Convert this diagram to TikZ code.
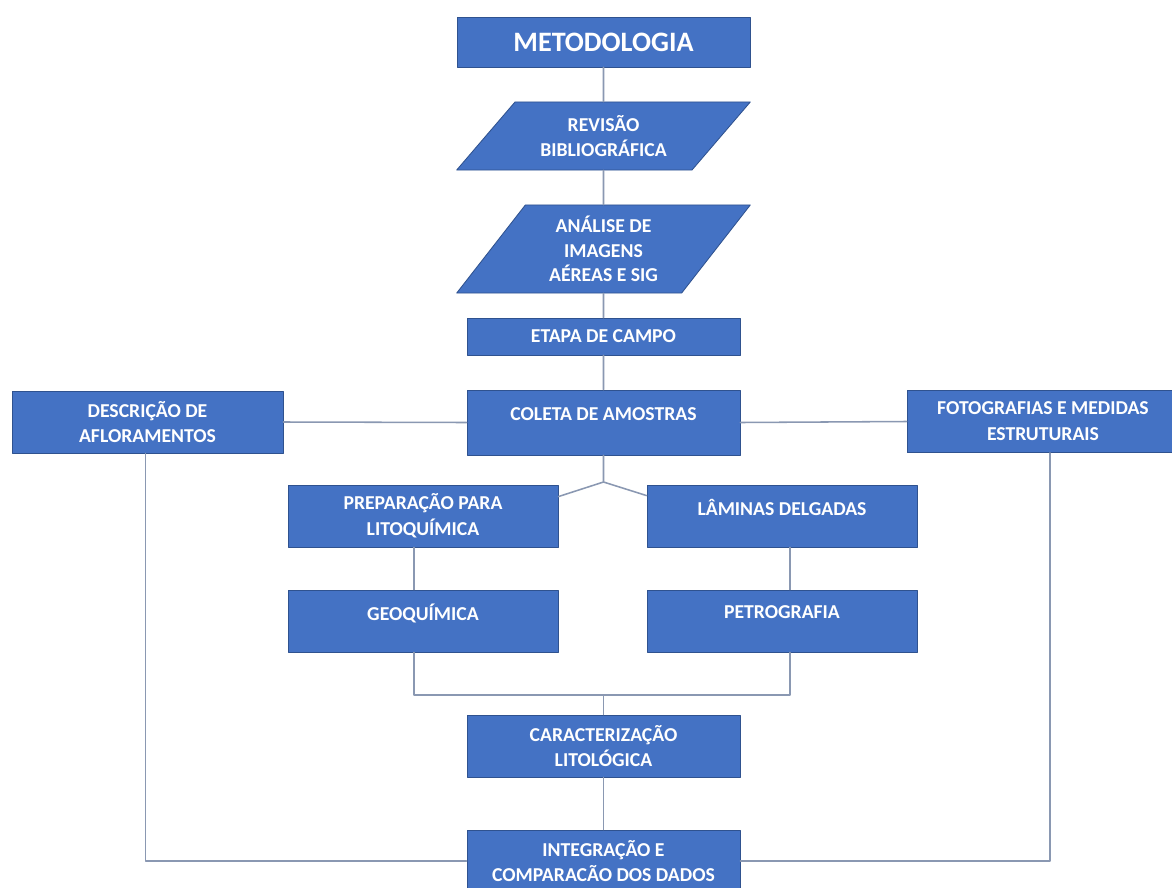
\documentclass[tikz,border=0pt]{standalone}
\usepackage{fontspec}
\setmainfont{Carlito}
\usetikzlibrary{shapes.geometric}
\definecolor{boxblue}{HTML}{4472C4}
\definecolor{boxedge}{HTML}{2F528F}
\definecolor{linkgray}{RGB}{138,152,178}
\newcommand{\upline}[1]{#1\\[-6pt]\mbox{}}
\begin{document}
\begin{tikzpicture}[x=0.025cm,y=-0.025cm,line join=round,line cap=round]
	\tikzset{box/.style={draw=boxedge,fill=boxblue,line width=0.6pt,text=white,font=\bfseries\fontsize{14}{18.4}\selectfont,align=center,inner sep=2pt,minimum width=6.825cm,minimum height=1.55cm},
		slanted/.style={box,trapezium,trapezium stretches=true,minimum width=7.35cm},
		link/.style={draw=linkgray,line width=1.1pt}}
	\useasboundingbox (0,0) rectangle (1172,888);
	\fill[white] (0,0) rectangle (1172,888);
	\node[box,minimum width=7.325cm,minimum height=1.25cm,font=\bfseries\fontsize{20}{24}\selectfont] (met) at (603.5,42) {METODOLOGIA};
	\node[slanted,trapezium left angle=47.6,trapezium right angle=132.4,minimum height=1.7cm] (rev) at (603.5,136) {REVISÃO\\BIBLIOGRÁFICA};
	\node[slanted,trapezium left angle=54.8,trapezium right angle=125.2,minimum height=2.2cm] (ana) at (603.5,249) {ANÁLISE DE\\[-1pt]IMAGENS\\[-1pt]AÉREAS E SIG};
	\node[box,minimum height=0.925cm] (etapa) at (603.5,336.5) {ETAPA DE CAMPO};
	\node[box,minimum height=1.625cm] (coleta) at (603.5,422.5) {\upline{COLETA DE AMOSTRAS}};
	\node[box,minimum width=6.775cm] (desc) at (147.5,422) {DESCRIÇÃO DE\\AFLORAMENTOS};
	\node[box,minimum width=6.8cm] (foto) at (1043,421.5) {FOTOGRAFIAS E MEDIDAS\\ESTRUTURAIS};
	\node[box,minimum width=6.75cm] (prep) at (423,516) {PREPARAÇÃO PARA\\LITOQUÍMICA};
	\node[box,minimum width=6.75cm] (lam) at (782,516) {\upline{LÂMINAS DELGADAS}};
	\node[box,minimum width=6.75cm] (geo) at (423,621) {\upline{GEOQUÍMICA}};
	\node[box,minimum width=6.75cm] (pet) at (782,621) {\upline{PETROGRAFIA}};
	\node[box] (carac) at (603.5,746) {CARACTERIZAÇÃO\\LITOLÓGICA};
	\node[box] (integ) at (603.5,861) {INTEGRAÇÃO E\\COMPARACÃO DOS DADOS};
	\coordinate (fork) at (603.5,482);
	\coordinate (join) at (603.5,695);
	\draw[link] (met.south) -- (rev.north) (rev.south) -- (ana.north) (ana.south) -- (etapa.north) (etapa.south) -- (coleta.north);
	\draw[link] (desc.east) -- (coleta.west) (coleta.east) -- (foto.west);
	\draw[link] (coleta.south) -- (fork) -- ([yshift=-0.3cm]prep.north east) (fork) -- ([yshift=-0.275cm]lam.north west);
	\draw[link] ([xshift=-0.225cm]prep.south) -- ([xshift=-0.225cm]geo.north) ([xshift=0.2cm]lam.south) -- ([xshift=0.2cm]pet.north);
	\draw[link] ([xshift=-0.225cm]geo.south) |- (join) -| ([xshift=0.2cm]pet.south) (join) -- (carac.north);
	\draw[link] (carac.south) -- (integ.north);
	\draw[link] ([xshift=-0.05cm]desc.south) |- (integ.west) ([xshift=0.175cm]foto.south) |- (integ.east);
\end{tikzpicture}
\end{document}
